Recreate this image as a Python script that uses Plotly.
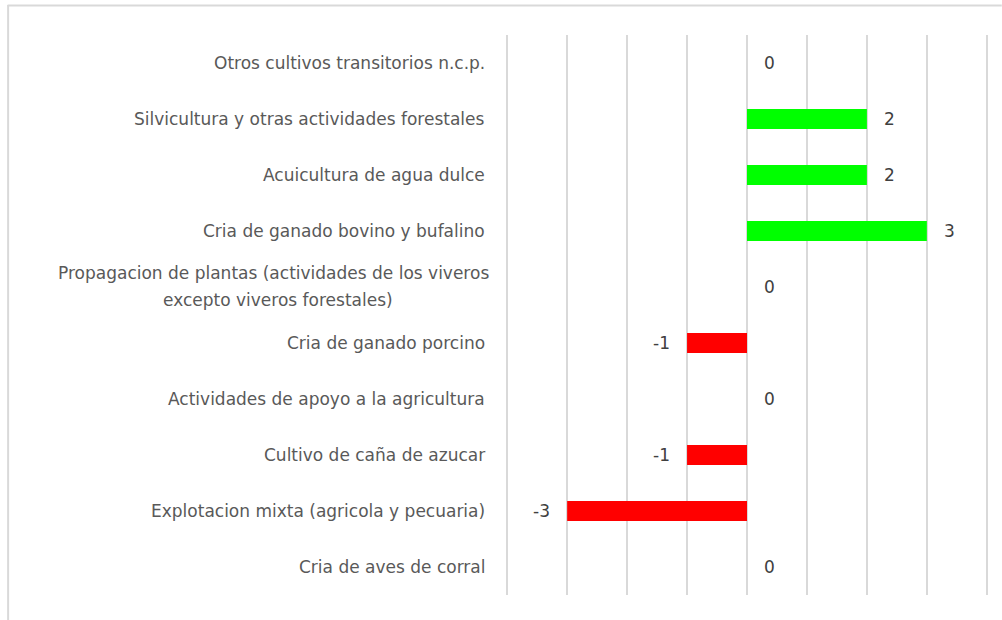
import plotly.graph_objects as go

categories = [
    "Otros cultivos transitorios n.c.p.",
    "Silvicultura y otras actividades forestales",
    "Acuicultura de agua dulce",
    "Cria de ganado bovino y bufalino",
    "Propagacion de plantas (actividades de los viveros<br>excepto viveros forestales)",
    "Cria de ganado porcino",
    "Actividades de apoyo a la agricultura",
    "Cultivo de caña de azucar",
    "Explotacion mixta (agricola y pecuaria)",
    "Cria de aves de corral",
]
values = [0, 2, 2, 3, 0, -1, 0, -1, -3, 0]
x_ticks = [-4, -3, -2, -1, 0, 1, 2, 3, 4]

W, H = 1002, 620
EPS = 0.02
L = 507 - 60 * EPS
R = 1002 - 987 - 60 * EPS
T, B = 35, 25
pw, ph = W - L - R, H - T - B

def px_x(p):
    return (p - L) / pw

def px_y(p):
    return (H - B - p) / ph

colors = ["#00ff00" if v > 0 else "#ff0000" for v in values]
font = "DejaVu Sans, Liberation Sans, Arial, sans-serif"
txtcol = "#595959"
FS = 17

fig = go.Figure()
fig.add_trace(go.Bar(
    y=categories, x=values, orientation="h",
    marker=dict(color=colors, line=dict(width=0)),
    hoverinfo="x+y",
))

annotations = []
for c, v in zip(categories, values):
    annotations.append(dict(
        x=v, y=c, xref="x", yref="y", text=str(v), showarrow=False,
        xanchor="right" if v < 0 else "left",
        xshift=-15 if v < 0 else 15,
        font=dict(family=font, size=FS, color="#404040"),
    ))
    lines = c.split("<br>")
    if len(lines) == 1:
        annotations.append(dict(
            x=px_x(487), y=c, xref="paper", yref="y", text=c, showarrow=False,
            xanchor="right",
            font=dict(family=font, size=FS, color=txtcol),
        ))
    else:
        # two-line wrapped label, lines 27px apart
        annotations.append(dict(
            x=px_x(491), y=c, xref="paper", yref="y", text=lines[0],
            showarrow=False, xanchor="right", yshift=14,
            font=dict(family=font, size=FS, color=txtcol),
        ))
        annotations.append(dict(
            x=px_x(161), y=c, xref="paper", yref="y", text=lines[1],
            showarrow=False, xanchor="left", yshift=-13,
            font=dict(family=font, size=FS, color=txtcol),
        ))

shapes = [
    dict(type="line", xref="paper", yref="paper",
         x0=px_x(7.5), x1=px_x(7.5), y0=px_y(5), y1=px_y(620),
         line=dict(color="#d9d9d9", width=2)),
    dict(type="line", xref="paper", yref="paper",
         x0=px_x(7), x1=px_x(1002), y0=px_y(5.5), y1=px_y(5.5),
         line=dict(color="#d9d9d9", width=2)),
]

fig.update_layout(
    width=W, height=H,
    margin=dict(l=L, r=R, t=T, b=B),
    paper_bgcolor="white", plot_bgcolor="white",
    showlegend=False,
    bargap=0.64,
    annotations=annotations,
    shapes=shapes,
    xaxis=dict(range=[-4 - EPS, 4 + EPS], tickvals=x_ticks, showticklabels=False,
               showgrid=True, gridcolor="#d9d9d9", gridwidth=1.5,
               zeroline=True, zerolinecolor="#d9d9d9", zerolinewidth=1.5,
               showline=False, fixedrange=True),
    yaxis=dict(categoryorder="array", categoryarray=categories[::-1],
               showticklabels=False, showgrid=False, zeroline=False,
               showline=False, fixedrange=True),
)

fig.write_html("out.html", config={"displayModeBar": False},
               post_script="document.body.style.margin='0';")
